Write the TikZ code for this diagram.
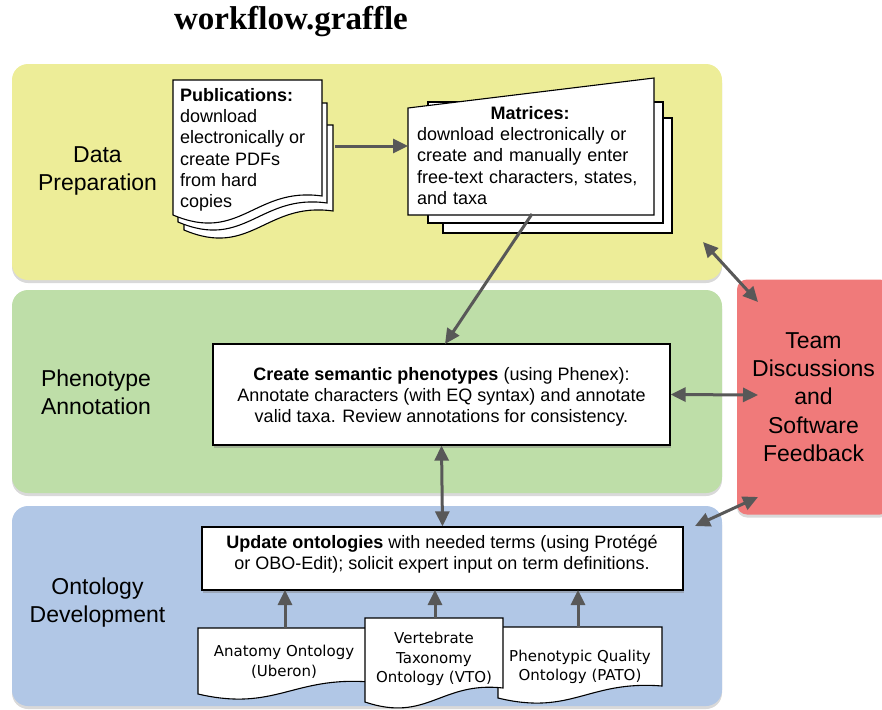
\documentclass[tikz,border=0pt]{standalone}
\usepackage{fontspec}
\setmainfont{Liberation Sans}
\newfontfamily\titlefont{Liberation Serif}
\newfontfamily\dvfont{DejaVu Sans}
\usetikzlibrary{arrows.meta,shadows}
\definecolor{bandyellow}{RGB}{237,237,152}
\definecolor{bandgreen}{RGB}{190,222,168}
\definecolor{bandblue}{RGB}{177,199,230}
\definecolor{teamred}{RGB}{240,122,122}
\definecolor{arrowgray}{RGB}{88,88,88}
\tikzset{
  band/.style={fill=#1, draw=none, rounded corners=16pt,
    drop shadow={shadow xshift=0pt, shadow yshift=-3pt, opacity=0.3}},
  page/.style={fill=white, draw=black, line width=1.1pt},
  box/.style={fill=white, draw=black, line width=1.2pt, inner sep=0pt,
    drop shadow={shadow xshift=1pt, shadow yshift=-2.5pt, opacity=0.45}},
  boxtxt/.style={align=center, inner sep=0pt, font=\fontsize{18}{20.8}\selectfont},
  bandlbl/.style={font=\fontsize{23}{28}\selectfont, align=center, inner sep=0pt},
  doclbl/.style={font=\dvfont\fontsize{15}{19.5}\selectfont, align=center, inner sep=0pt},
  pagetxt/.style={font=\fontsize{18}{21.3}\selectfont, inner sep=0pt},
  tip/.tip={Triangle[length=15pt,width=14pt]},
  conn/.style={draw=arrowgray, line width=3pt, -tip},
  biconn/.style={draw=arrowgray, line width=3pt, tip-tip},
}
% wavy-bottom page: x1,y1,x2,y2(left bottom),amplitude
\newcommand\wavedoc[5]{%
  \path[page] (#1,#2) -- (#3,#2) -- (#3,{#4-#5})
    .. controls ({#3-0.45*(#3-#1)},{#4-1.5*#5}) and ({#1+0.45*(#3-#1)},{#4+1.5*#5}) .. (#1,#4) -- cycle;}
\begin{document}
\begin{tikzpicture}[x=1pt,y=-1pt]
\useasboundingbox (0,0) rectangle (882,709);
\clip (0,0) rectangle (882,709);

% title
\node[inner sep=0pt, font=\titlefont\bfseries\fontsize{33}{38}\selectfont] (title) at (291,22) {workflow.graffle};

% bands
\path[band=bandyellow] (12,64) rectangle (722,280);
\path[band=bandgreen] (12,290) rectangle (722,493);
\path[band=bandblue] (12,506) rectangle (722,706);
\node[fill=teamred, draw=none, rounded corners=10pt, minimum width=153pt, minimum height=235pt,
  align=center, font=\fontsize{23}{28.2}\selectfont, inner sep=0pt,
  drop shadow={shadow xshift=0pt, shadow yshift=-3pt, opacity=0.3}] (team) at (813.5,397)
  {Team\\Discussions\\and\\Software\\Feedback};

% band labels
\node[bandlbl] (lblData) at (97.5,171) {Data\\Preparation};
\node[bandlbl] (lblPheno) at (96,392) {Phenotype\\Annotation};
\node[bandlbl] (lblOnto) at (97.5,603) {Ontology\\Development};

% publications stack
\wavedoc{184}{125}{333}{230}{19}
\wavedoc{178}{103}{327}{222}{19}
\wavedoc{173}{80}{322}{215}{19}
\node[pagetxt, align=left, anchor=north west] (pubtxt) at (180,88)
  {\textbf{Publications:}\\download\\electronically or\\create PDFs\\from hard\\copies};
\coordinate (pubR) at (335,146);

% matrices stack
\path[page] (443,118) rectangle (672,233);
\path[page] (428,102) rectangle (663,223);
\path[page] (408,108) -- (654,78) -- (654,215) -- (408,215) -- cycle;
\node[pagetxt, align=left, anchor=north west, text width=226pt] (mattxt) at (417,106)
  {\makebox[226pt][c]{\textbf{Matrices:}}\\download electronically or\\create and manually enter\\free-text characters, states,\\and taxa};
\coordinate (matL) at (408,146);
\coordinate (matB) at (532,214);

% phenotype box
\node[box, minimum width=457pt, minimum height=101pt] (phen) at (441.5,394.5) {};
\node[boxtxt] (phentxt) at (441.5,397)
  {\textbf{Create semantic phenotypes} (using Phenex):\\Annotate characters (with EQ syntax) and annotate\\valid taxa. Review annotations for consistency.};
\coordinate (phenT) at (445,344);

% update box
\node[box, minimum width=481pt, minimum height=63pt] (upd) at (442.5,558.5) {};
\node[boxtxt, font=\fontsize{18}{21.5}\selectfont] (updtxt) at (442,554)
  {\textbf{Update ontologies} with needed terms (using Protégé\\or OBO-Edit); solicit expert input on term definitions.};

% ontology documents
\wavedoc{198}{628}{370}{694}{12}
\node[doclbl] (anat) at (284,662) {Anatomy Ontology\\(Uberon)};
\wavedoc{498}{627}{662}{698}{12}
\node[doclbl] (pato) at (580,667) {Phenotypic Quality\\Ontology (PATO)};
\wavedoc{365}{618}{503}{702}{14}
\node[doclbl] (vto) at (434,659) {Vertebrate\\Taxonomy\\Ontology (VTO)};
\coordinate (anatT) at (285,628);
\coordinate (vtoT) at (435,618);
\coordinate (patoT) at (578,627);
\coordinate (updA) at (285,590);
\coordinate (updB) at (435,590);
\coordinate (updC) at (578,590);

% connector end points at the bands / team box
\coordinate (yelC) at (703,242);
\coordinate (teamA) at (758,302);
\coordinate (teamB) at (758,395);
\coordinate (teamC) at (758,497);
\coordinate (updR) at (695,526);

% connectors
\draw[conn] (pubR) -- (matL);
\draw[conn] (matB) -- (phenT);
\draw[biconn] (yelC) -- (teamA);
\draw[biconn] (phen.east) -- (teamB);
\draw[biconn] (phen.south) -- (upd.north);
\draw[biconn] (teamC) -- (updR);
\draw[conn] (anatT) -- (updA);
\draw[conn] (vtoT) -- (updB);
\draw[conn] (patoT) -- (updC);
\end{tikzpicture}
\end{document}
